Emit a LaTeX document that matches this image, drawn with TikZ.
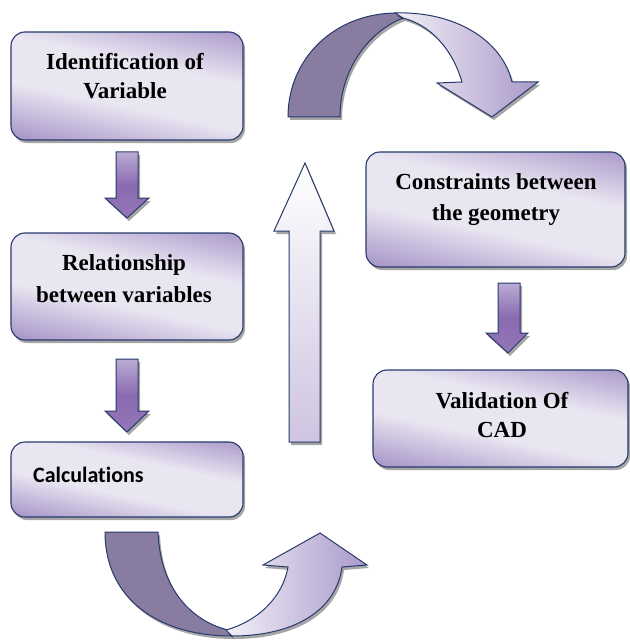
\documentclass[tikz,border=0pt]{standalone}
\usepackage{fontspec}
\setmainfont{Liberation Serif}
\newfontfamily\calfont{Carlito}[RawFeature={-liga}]
\usetikzlibrary{shadows}
\definecolor{bord}{RGB}{38,58,108}
\definecolor{pdark}{RGB}{170,153,202}
\definecolor{plight}{RGB}{233,229,241}
\definecolor{pwhite}{RGB}{242,240,247}
\definecolor{rdark}{RGB}{136,124,160}
\definecolor{amid}{RGB}{138,106,176}
\definecolor{atop}{RGB}{186,172,212}
\definecolor{upbot}{RGB}{206,196,224}
\pgfdeclarehorizontalshading{boxsh}{100bp}{color(0bp)=(pdark); color(22bp)=(pdark); color(42bp)=(plight); color(60bp)=(plight); color(80bp)=(pdark); color(100bp)=(pdark)}
\tikzset{
  shad/.style={drop shadow={shadow xshift=2bp, shadow yshift=-3bp, fill=black, opacity=.35}},
  box/.style={draw=bord, line width=1.1bp, rounded corners=14bp, shade, shading=boxsh, shading angle=78, shad, inner sep=0},
  txt/.style={font=\fontsize{23bp}{30bp}\selectfont\bfseries, anchor=base, inner sep=0},
  ctxt/.style={font=\fontsize{22bp}{26bp}\selectfont\calfont\bfseries, anchor=base west, inner sep=0},
  darrow/.style={draw=bord, line width=1bp, top color=atop, bottom color=amid!80!atop, middle color=amid, shad},
  uarrow/.style={draw=bord, line width=1bp, top color=white, bottom color=upbot, shad},
  darkrib/.style={draw=bord, line width=1bp, fill=rdark, shad},
  lightrib/.style={draw=bord, line width=1bp, left color=pwhite, right color=pdark, shad},
}
\begin{document}
\begin{tikzpicture}[x=1bp, y=-1bp]
\useasboundingbox (0,0) rectangle (630,641);
% boxes
\node[box, minimum width=232bp, minimum height=108bp] (b1) at (127,86) {};
\node[box, minimum width=232bp, minimum height=107bp] (b2) at (127,286.5) {};
\node[box, minimum width=232bp, minimum height=75bp] (b3) at (127,479.5) {};
\node[box, minimum width=259bp, minimum height=115bp] (b4) at (495.5,209.5) {};
\node[box, minimum width=255bp, minimum height=97bp] (b5) at (500.5,418.5) {};
% texts
\node[txt] (t1a) at (125,70) {Identification of};
\node[txt] (t1b) at (125,99) {Variable};
\node[txt] (t2a) at (124,270) {Relationship};
\node[txt] (t2b) at (124,302) {between variables};
\node[ctxt] (t3) at (33,482) {Calculations};
\node[txt] (t4a) at (496,190) {Constraints between};
\node[txt] (t4b) at (496,220) {the geometry};
\node[txt] (t5a) at (502,408) {Validation Of};
\node[txt] (t5b) at (502,437) {CAD};
% straight down arrows
\path[darrow] (116,152) -- (138,152) -- (138,198) -- (149,198) -- (127,218) -- (105,198) -- (116,198) -- cycle;
\path[darrow] (116,359) -- (138,359) -- (138,411) -- (149,411) -- (127,432) -- (105,411) -- (116,411) -- cycle;
\path[darrow] (498,283) -- (520,283) -- (520,333) -- (528,333) -- (508,353) -- (486,333) -- (498,333) -- cycle;
% up arrow
\path[uarrow] (289,442) -- (289,231) -- (274,231) -- (305,163) -- (334,231) -- (320,231) -- (320,442) -- cycle;
% top curved arrow
\path[darkrib] (288,117) .. controls (288,58) and (335,13) .. (397,13) -- (403,18) .. controls (368,32) and (340,70) .. (340,117) -- cycle;
\path[lightrib] (395,13) .. controls (455,11) and (502,40) .. (512,82) -- (538,82) -- (492,117) -- (437,83) -- (462,82) .. controls (452,48) and (430,25) .. (403,18) -- cycle;
% bottom curved arrow
\path[darkrib] (105,532) -- (158,532) .. controls (160,585) and (188,620) .. (228,630) -- (232,636) .. controls (160,636) and (105,600) .. (105,532) -- cycle;
\path[lightrib] (226,630) .. controls (255,622) and (282,600) .. (288,567) -- (263,565) -- (320,533) -- (367,565) -- (342,567) .. controls (336,612) and (292,636) .. (232,636) -- cycle;
\end{tikzpicture}
\end{document}
